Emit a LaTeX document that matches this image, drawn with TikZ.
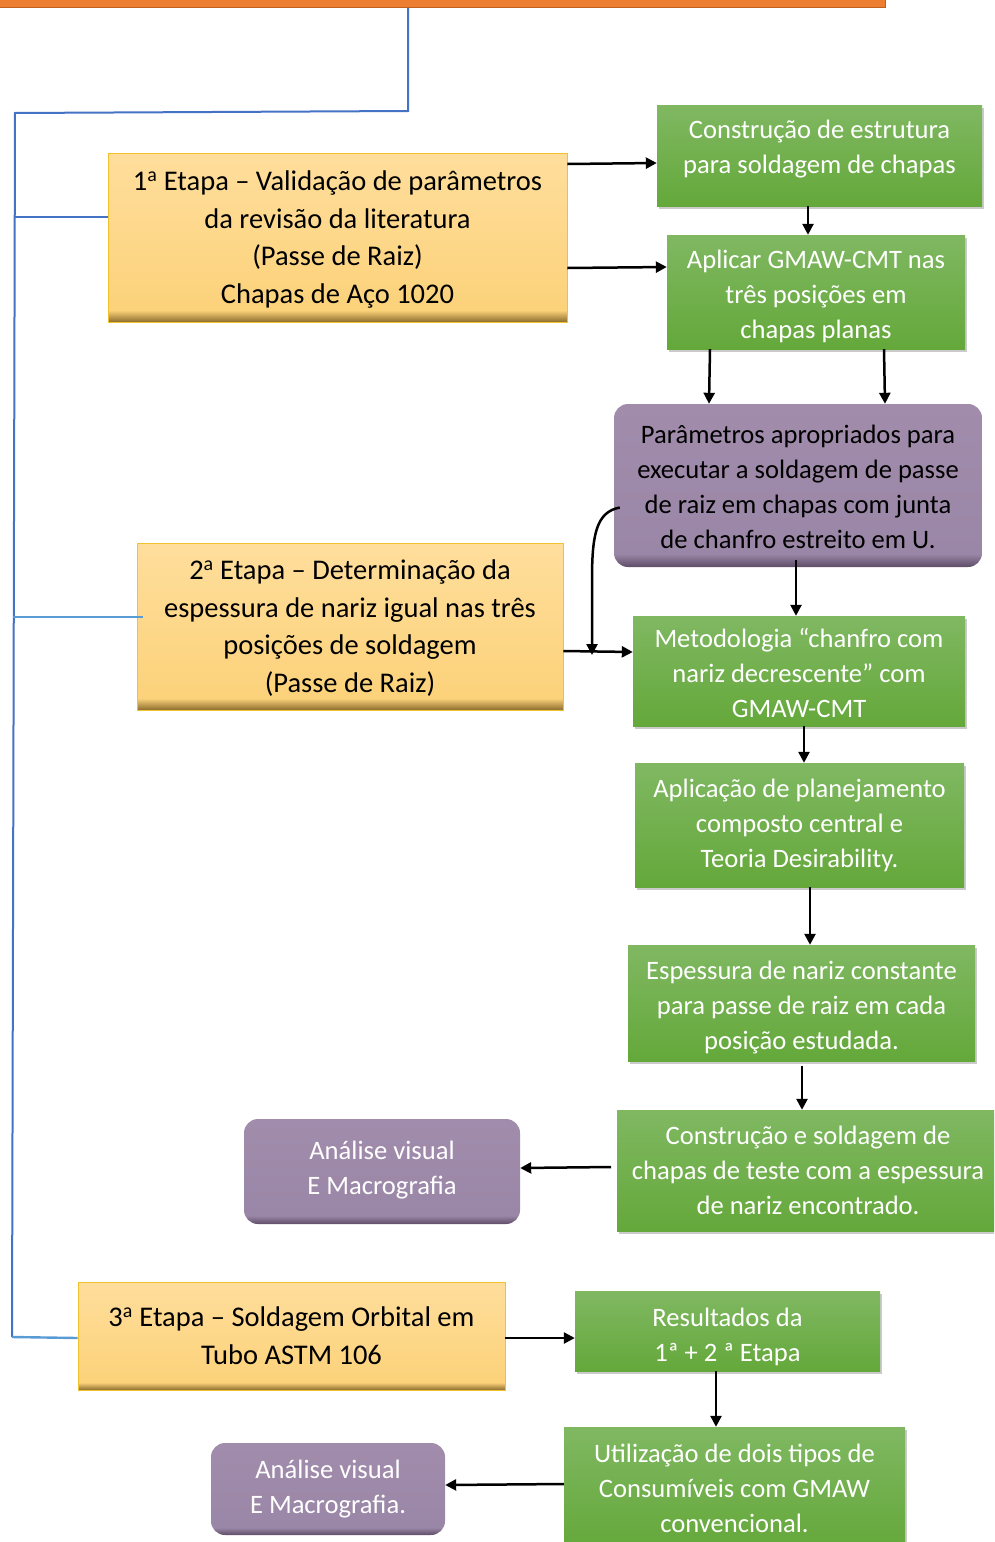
\documentclass[tikz,border=0pt]{standalone}
\usepackage{fontspec}
\setmainfont{Carlito}
\usetikzlibrary{arrows.meta,shadows,calc}
\definecolor{orangebar}{HTML}{ED7D31}
\definecolor{orangeedge}{HTML}{C0601F}
\definecolor{blueline}{HTML}{4472C4}
\definecolor{lightblue}{HTML}{5B9BD5}
\definecolor{ytop}{HTML}{FFDE9C}
\definecolor{ymid}{HTML}{FCD27A}
\definecolor{ybot}{HTML}{8C6D2E}
\definecolor{yedge}{HTML}{F2C12E}
\definecolor{gtop}{HTML}{80B862}
\definecolor{gbot}{HTML}{64A83A}
\definecolor{ptop}{HTML}{A18CAC}
\definecolor{pmid}{HTML}{9A86A6}
\definecolor{pbot}{HTML}{5E4C68}
\pgfdeclareverticalshading{yshade}{100bp}{color(0bp)=(ybot); color(25bp)=(ybot); color(28.5bp)=(ymid); color(75bp)=(ytop); color(100bp)=(ytop)}
\pgfdeclareverticalshading{gshade}{100bp}{color(0bp)=(gbot); color(25bp)=(gbot); color(75bp)=(gtop); color(100bp)=(gtop)}
\pgfdeclareverticalshading{pshade}{100bp}{color(0bp)=(pbot); color(25bp)=(pbot); color(29bp)=(pmid); color(75bp)=(ptop); color(100bp)=(ptop)}
\newcommand{\mltext}[2]{\raisebox{#1}[\height][\depth]{\begin{tabular}{@{}c@{}}#2\end{tabular}}}
\tikzset{
  ybox/.style={rectangle, shading=yshade, draw=yedge, line width=0.8pt, inner sep=0pt, align=center,
    font=\fontsize{28.5}{37.7}\selectfont, text=black},
  gbox/.style={rectangle, shading=gshade, inner sep=0pt, align=center,
    font=\fontsize{26.6}{35}\selectfont, text=white,
    drop shadow={shadow xshift=2pt, shadow yshift=-3pt, opacity=0.35, fill=black!60}},
  pbox/.style={rectangle, rounded corners=14pt, shading=pshade, inner sep=0pt, align=center,
    font=\fontsize{26.6}{35}\selectfont},
  arr/.style={draw=black, line width=2.5pt, -{Triangle[length=11pt,width=11pt]}},
  bline/.style={draw=blueline, line width=2pt},
  lbline/.style={draw=lightblue, line width=2.4pt}
}
\begin{document}
\begin{tikzpicture}[x=1pt,y=-1pt]
\useasboundingbox (0,0) rectangle (994,1542);
\clip (0,0) rectangle (994,1542);
% top orange bar
\path[fill=orangebar, draw=orangeedge, line width=1pt] (-5,-10) rectangle (885,7);
\coordinate (top) at (408,8);
% yellow stage boxes
\node[ybox, minimum width=459pt, minimum height=169pt] (s1) at (337.5,237.5)
  {\mltext{-2pt}{1\textsuperscript{a} Etapa -- Validação de parâmetros\\da revisão da literatura\\(Passe de Raiz)\\Chapas de Aço 1020}};
\node[ybox, minimum width=426pt, minimum height=167pt] (s2) at (350,626.5)
  {\mltext{-2pt}{2\textsuperscript{a} Etapa -- Determinação da\\espessura de nariz igual nas três\\posições de soldagem\\(Passe de Raiz)}};
\node[ybox, minimum width=427pt, minimum height=108pt] (s3) at (291.5,1336)
  {3\textsuperscript{a} Etapa -- Soldagem Orbital em\\Tubo ASTM 106};
% green boxes
\node[gbox, minimum width=325pt, minimum height=101pt] (g1) at (819.5,155.5)
  {\mltext{7pt}{Construção de estrutura\\para soldagem de chapas}};
\node[gbox, minimum width=298pt, minimum height=114pt] (g2) at (816,292)
  {\mltext{-4pt}{Aplicar GMAW-CMT nas\\três posições em\\chapas planas}};
\node[pbox, minimum width=368pt, minimum height=163pt, text=black] (p1) at (798,485.5)
  {\mltext{-3pt}{Parâmetros apropriados para\\executar a soldagem de passe\\de raiz em chapas com junta\\de chanfro estreito em U.}};
\node[gbox, minimum width=332pt, minimum height=110pt] (g3) at (799,671)
  {\mltext{-4.5pt}{Metodologia “chanfro com\\nariz decrescente” com\\GMAW-CMT}};
\node[gbox, minimum width=329pt, minimum height=124pt] (g4) at (799.5,825)
  {Aplicação de planejamento\\composto central e\\Teoria Desirability.};
\node[gbox, minimum width=347pt, minimum height=116pt] (g5) at (801.5,1003)
  {\mltext{-4pt}{Espessura de nariz constante\\para passe de raiz em cada\\posição estudada.}};
\node[gbox, minimum width=382pt, minimum height=121pt] (g6) at (808,1170.5)
  {Construção e soldagem de\\chapas de teste com a espessura\\de nariz encontrado.};
\node[pbox, minimum width=276pt, minimum height=105pt, text=white] (p2) at (382,1171.5)
  {\mltext{2pt}{Análise visual\\E Macrografia}};
\node[gbox, minimum width=305pt, minimum height=80pt] (g7) at (727.5,1331)
  {\mltext{-5.5pt}{Resultados da\\1ª + 2 ª Etapa}};
\node[gbox, minimum width=341pt, minimum height=122pt] (g8) at (734.5,1488)
  {Utilização de dois tipos de\\Consumíveis com GMAW\\convencional.};
\node[pbox, minimum width=234pt, minimum height=92pt, text=white] (p3) at (328,1489)
  {Análise visual\\E Macrografia.};
% blue connectors
\coordinate (b1) at (408,111);
\coordinate (b2) at (15,113);
\coordinate (b3) at (12,1337);
\draw[bline] (top) -- (b1) -- (b2) -- (b3);
\draw[bline] (14,217) -- (s1.west |- 0,217);
\draw[lbline] (13,617) -- (143,617);
\draw[lbline] (b3) -- (s3.west |- 0,1338);
% arrows
\draw[arr] (s1.east |- 0,164) -- (g1.west |- 0,163);
\draw[arr] (s1.east |- 0,268) -- (g2.west |- 0,267);
\draw[arr] (g1.south -| 808,0) -- (g2.north -| 808,0);
\draw[arr] (g2.south -| 710,0) -- (p1.north -| 709,0);
\draw[arr] (g2.south -| 884,0) -- (p1.north -| 885,0);
\draw[arr] (796,560) -- (g3.north -| 796,0);
\coordinate (m) at (592,655);
\draw[arr] (s2.east |- 0,651) -- (g3.west |- 0,652);
\draw[arr] ($(p1.west)+(6,22)$) .. controls (596,512) and (592,535) .. (592,580) -- (m);
\draw[arr] (g3.south -| 804,0) -- (g4.north -| 804,0);
\draw[arr] (g4.south -| 810,0) -- (g5.north -| 810,0);
\draw[arr] (802,1066) -- (g6.north -| 802,0);
\draw[arr] (611,1167) -- (p2.east |- 0,1168);
\draw[arr] (s3.east |- 0,1338) -- (g7.west |- 0,1338);
\draw[arr] (g7.south -| 716,0) -- (g8.north -| 716,0);
\draw[arr] (g8.west |- 0,1484) -- (p3.east |- 0,1485);
\end{tikzpicture}
\end{document}
